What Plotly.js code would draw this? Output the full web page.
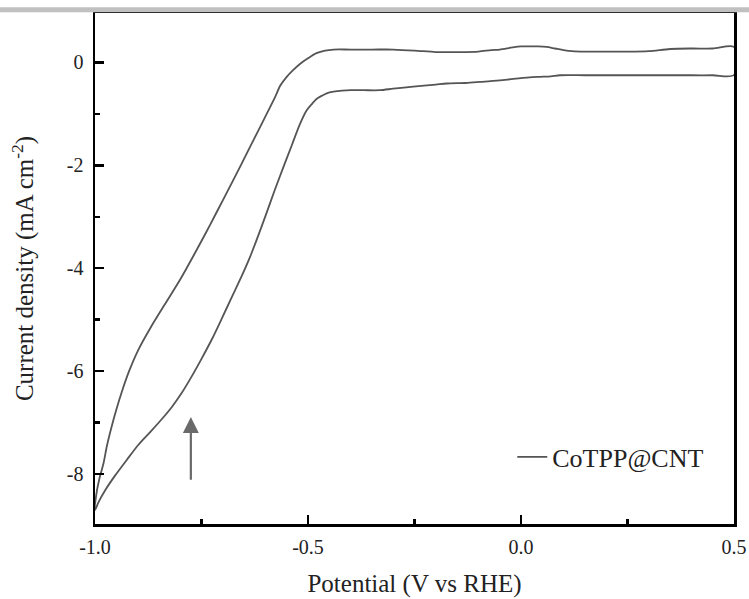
<!DOCTYPE html>
<html>
<head>
<meta charset="utf-8">
<script src="https://cdn.plot.ly/plotly-3.0.1.min.js"></script>
<style>html,body{margin:0;padding:0;background:#fff;}#chart{width:749px;height:599px;}</style>
</head>
<body>
<div id="chart"></div>
<script>
// Return (lower) branch, potential ascending
const lowerX = [-1.0, -0.992, -0.975, -0.953, -0.925, -0.898, -0.87, -0.843, -0.82, -0.797, -0.775, -0.750, -0.725, -0.703, -0.68, -0.656, -0.636, -0.617, -0.597, -0.578, -0.558, -0.538, -0.519, -0.503, -0.49, -0.48, -0.468, -0.456, -0.44, -0.42, -0.40, -0.37, -0.331, -0.30, -0.253, -0.20, -0.174, -0.13, -0.096, -0.05, -0.018, 0.02, 0.045, 0.07, 0.092, 0.15, 0.2, 0.25, 0.3, 0.35, 0.4, 0.45, 0.5];
const lowerY = [-8.7, -8.55, -8.3, -8.03, -7.72, -7.43, -7.18, -6.93, -6.70, -6.43, -6.13, -5.76, -5.37, -4.99, -4.58, -4.16, -3.78, -3.37, -2.92, -2.48, -2.04, -1.61, -1.2, -0.93, -0.8, -0.71, -0.65, -0.60, -0.57, -0.55, -0.54, -0.54, -0.54, -0.51, -0.47, -0.43, -0.41, -0.40, -0.38, -0.35, -0.32, -0.29, -0.28, -0.27, -0.25, -0.25, -0.25, -0.25, -0.25, -0.25, -0.25, -0.25, -0.245];
// Upper branch, potential descending
const upperX = [0.5, 0.45, 0.40, 0.35, 0.30, 0.25, 0.20, 0.15, 0.12, 0.10, 0.08, 0.06, 0.04, 0.02, 0.0, -0.02, -0.05, -0.07, -0.10, -0.15, -0.20, -0.25, -0.30, -0.35, -0.40, -0.44, -0.46, -0.48, -0.50, -0.519, -0.535, -0.55, -0.565, -0.577, -0.597, -0.617, -0.636, -0.656, -0.68, -0.700, -0.72, -0.739, -0.765, -0.80, -0.836, -0.87, -0.898, -0.92, -0.937, -0.95, -0.961, -0.972, -0.980, -0.99, -0.997, -1.0];
const upperY = [0.30, 0.27, 0.27, 0.26, 0.22, 0.21, 0.21, 0.21, 0.22, 0.24, 0.27, 0.30, 0.31, 0.31, 0.31, 0.29, 0.25, 0.24, 0.21, 0.20, 0.20, 0.23, 0.25, 0.25, 0.25, 0.25, 0.23, 0.18, 0.08, -0.03, -0.15, -0.28, -0.45, -0.67, -1.0, -1.33, -1.64, -1.97, -2.36, -2.68, -3.0, -3.3, -3.7, -4.22, -4.7, -5.16, -5.58, -6.0, -6.4, -6.75, -7.08, -7.45, -7.79, -8.1, -8.4, -8.7];
const seriesName = 'CoTPP@CNT';
const xTickVals = [-1.0, -0.5, 0.0, 0.5];
const xTickText = ['-1.0', '-0.5', '0.0', '0.5'];
const yTickVals = [-8, -6, -4, -2, 0];
const yTickText = ['-8', '-6', '-4', '-2', '0'];
const arrowTip = {x: -0.775, y: -6.89};
const arrowTail = {x: -0.775, y: -8.14};

const cvX = lowerX.concat(upperX);
const cvY = lowerY.concat(upperY);

const FONT = '"Liberation Serif", "Times New Roman", serif';
const axisCommon = {
  showline: true, linecolor: '#000', linewidth: 2.5, mirror: true,
  ticks: 'inside', ticklen: 9, tickwidth: 2.5, tickcolor: '#000',
  showgrid: false, zeroline: false,
  tickfont: {family: FONT, size: 20, color: '#222'}
};

const data = [{
  x: cvX, y: cvY, type: 'scatter', mode: 'lines', name: seriesName,
  line: {color: '#555555', width: 1.8, shape: 'spline', smoothing: 0.8}
}];

const layout = {
  width: 749, height: 599,
  margin: {l: 95, r: 15, t: 12.5, b: 75},
  paper_bgcolor: '#fff', plot_bgcolor: '#fff',
  showlegend: true,
  legend: {x: 0.653, y: 0.131, xanchor: 'left', yanchor: 'middle',
    font: {family: FONT, size: 26, color: '#222'}, bgcolor: 'rgba(0,0,0,0)'},
  xaxis: Object.assign({}, axisCommon, {
    range: [-1.0, 0.5], tickvals: xTickVals, ticktext: xTickText,
    minor: {tickvals: [-0.75, -0.25, 0.25], ticks: 'inside', ticklen: 5, tickwidth: 2.5, tickcolor: '#000'},
    ticklabelstandoff: 3,
    title: {text: 'Potential (V vs RHE)', font: {family: FONT, size: 25, color: '#222'}, standoff: 18}
  }),
  yaxis: Object.assign({}, axisCommon, {
    range: [-8.97, 0.96], tickvals: yTickVals, ticktext: yTickText,
    minor: {tickvals: [-7, -5, -3, -1], ticks: 'inside', ticklen: 5, tickwidth: 2.5, tickcolor: '#000'},
    ticklabelstandoff: 5,
    title: {text: 'Current density (mA cm<sup>-2</sup>)', font: {family: FONT, size: 25, color: '#222'}, standoff: 26}
  }),
  shapes: [{
    type: 'rect', xref: 'paper', yref: 'paper',
    x0: -95/639, x1: 1 + 15/639, y0: 1.0015, y1: 1 + 5.8/511.5,
    fillcolor: '#c0c0c0', line: {width: 0}, layer: 'above'
  }],
  annotations: [{
    x: arrowTip.x, y: arrowTip.y, ax: arrowTail.x, ay: arrowTail.y,
    xref: 'x', yref: 'y', axref: 'x', ayref: 'y',
    showarrow: true, arrowhead: 2, arrowsize: 1.45, arrowwidth: 2.2, arrowcolor: '#6a6a6a', text: ''
  }]
};

Plotly.newPlot('chart', data, layout, {displayModeBar: false, staticPlot: true});
</script>
</body>
</html>
